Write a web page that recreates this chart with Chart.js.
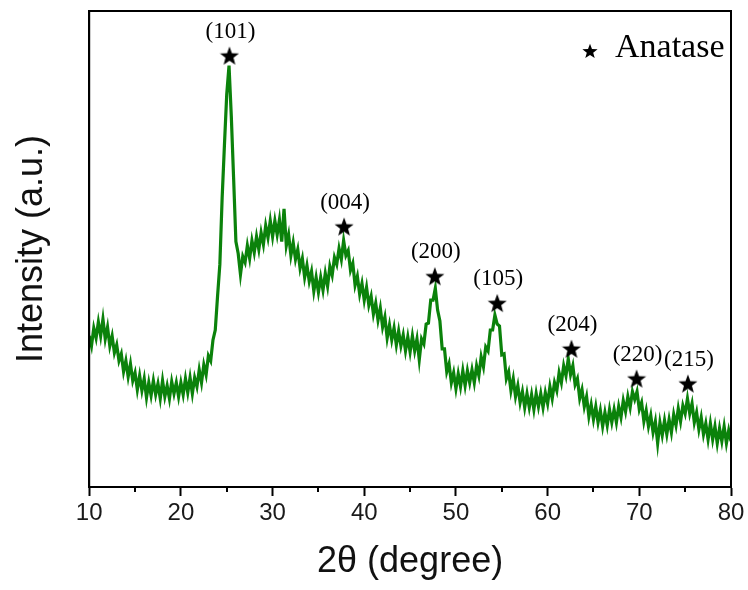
<!DOCTYPE html>
<html>
<head>
<meta charset="utf-8">
<script src="https://cdn.jsdelivr.net/npm/chart.js@4"></script>
<style>
  html, body { margin: 0; padding: 0; background: #fff; }
  #wrap { width: 748px; height: 590px; }
</style>
</head>
<body>
<div id="wrap"><canvas id="xrdChart"></canvas></div>
<script>
// XRD pattern, 2theta grid 10..80 deg, step 0.25 (intensity in a.u.)
const thetaStart = 10;
const thetaStep = 0.25;
const intensity = [
  152,142,160,150,166,152,169,149,   // 10.00 - 11.75
  161,142,152,135,143,127,134,116,   // 12
  127,111,124,107,115,98,112,97,     // 14
  109,90,105,92,107,93,104,89,       // 16
  107,91,102,89,106,94,105,91,       // 18
  105,93,109,95,110,94,110,101,      // 20
  118,105,123,113,132,127,148,158,   // 22
  192,224,291,344,395,424,373,311,   // 24
  247,235,214,232,226,243,230,248,   // 26
  236,252,239,256,244,263,251,268,   // 28
  252,268,254,269,247,280,243,254,   // 30
  233,246,229,239,220,230,211,223,   // 32
  207,217,197,211,196,211,198,215,   // 34
  202,222,213,231,224,240,229,248,   // 36
  233,238,218,225,203,212,194,205,   // 38
  188,201,183,192,174,185,168,180,   // 40
  161,171,150,163,148,160,143,157,   // 42
  142,153,137,151,136,152,137,149,   // 44
  128,149,144,164,165,188,188,200,   // 46
  178,167,139,139,116,124,105,115,   // 48
  99,114,101,117,102,117,105,118,    // 50
  105,122,112,131,121,141,137,158,   // 52
  158,173,164,162,133,134,109,116,   // 54
  97,109,91,102,85,96,80,94,         // 56
  80,93,78,94,81,94,80,95,           // 58
  84,101,89,105,97,115,105,122,      // 60
  112,129,113,122,103,109,89,98,     // 62
  81,91,71,83,68,81,65,77,           // 64
  61,75,62,78,65,78,65,81,           // 66
  70,87,76,91,80,96,88,96,           // 68
  78,85,66,77,61,72,55,66,           // 70
  44,65,52,67,53,68,55,73,           // 72
  62,79,66,82,74,89,74,84,           // 74
  65,75,58,70,53,64,48,64,           // 76
  48,61,44,59,46,61,44,57,           // 78
  46                                 // 80
];

// anatase reflections: star marker positions and hkl labels
const peakTheta = [25.3, 37.8, 47.7, 54.5, 62.6, 69.7, 75.3];
const peakMark = [434, 262, 212, 185, 139, 109, 104];
const peakLabels = ['(101)', '(004)', '(200)', '(105)', '(204)', '(220)', '(215)'];

const xTicks = [10, 20, 30, 40, 50, 60, 70, 80];

const lineData = intensity.map((v, i) => ({ x: thetaStart + i * thetaStep, y: v }));
const starData = peakTheta.map((t, i) => ({ x: t, y: peakMark[i] }));

function makeStar(size) {
    const c = document.createElement('canvas');
    c.width = size; c.height = size;
    const g = c.getContext('2d');
    const R = size / 2, r = R * 0.42, cx = R, cy = R * 1.08;
    g.beginPath();
    for (let i = 0; i < 10; i++) {
        const a = -Math.PI / 2 + i * Math.PI / 5;
        const rad = i % 2 ? r : R;
        g.lineTo(cx + rad * Math.cos(a), cy + rad * Math.sin(a));
    }
    g.closePath();
    g.fillStyle = '#000';
    g.fill();
    return c;
}

const bigStar = makeStar(20);
const smallStar = makeStar(16);

// labels above stars, legend box, frame and minor ticks
const decorations = {
    id: 'decorations',
    afterDatasetsDraw(chart) {
        const ctx = chart.ctx;
        const xs = chart.scales.x, ys = chart.scales.y;
        ctx.save();
        ctx.fillStyle = '#000';
        ctx.font = '23px "Liberation Serif", "Times New Roman", serif';
        ctx.textAlign = 'center';
        ctx.textBaseline = 'middle';
        peakLabels.forEach((lab, i) => {
            const px = xs.getPixelForValue(peakTheta[i]);
            const py = ys.getPixelForValue(peakMark[i]);
            ctx.fillText(lab, px + 1, py - 24);
        });
        ctx.restore();
    },
    afterDraw(chart) {
        const ctx = chart.ctx;
        const a = chart.chartArea;
        const xs = chart.scales.x;
        ctx.save();
        // legend
        ctx.drawImage(smallStar, a.right - 149, a.top + 32);
        ctx.fillStyle = '#000';
        ctx.font = '34px "Liberation Serif", "Times New Roman", serif';
        ctx.textAlign = 'left';
        ctx.textBaseline = 'alphabetic';
        ctx.fillText('Anatase', a.right - 116, a.top + 46);
        // frame
        ctx.strokeStyle = '#000';
        ctx.lineWidth = 2;
        ctx.strokeRect(a.left, a.top, a.right - a.left, a.bottom - a.top);
        // minor ticks
        for (let v = 15; v < 80; v += 10) {
            const px = Math.round(xs.getPixelForValue(v));
            ctx.beginPath();
            ctx.moveTo(px, a.bottom);
            ctx.lineTo(px, a.bottom + 5);
            ctx.stroke();
        }
        ctx.restore();
    }
};

new Chart(document.getElementById('xrdChart').getContext('2d'), {
    type: 'line',
    data: {
        datasets: [
            {
                label: 'Anatase',
                data: starData,
                showLine: false,
                pointStyle: bigStar,
                pointRadius: 10,
                order: 0
            },
            {
                label: 'XRD',
                data: lineData,
                borderColor: '#0b820b',
                backgroundColor: '#0b820b',
                borderWidth: 3.2,
                borderJoinStyle: 'miter',
                pointRadius: 0,
                tension: 0,
                order: 1
            }
        ]
    },
    options: {
        responsive: true,
        maintainAspectRatio: false,
        animation: false,
        events: [],
        layout: { padding: { left: 10, right: 17, top: 6, bottom: 6 } },
        plugins: {
            legend: { display: false },
            tooltip: { enabled: false }
        },
        scales: {
            x: {
                type: 'linear',
                min: 10,
                max: 80,
                afterBuildTicks: axis => { axis.ticks = xTicks.map(v => ({ value: v })); },
                ticks: {
                    autoSkip: false,
                    maxRotation: 0,
                    padding: 3,
                    color: '#1a1a1a',
                    font: { family: '"Liberation Sans", Arial, sans-serif', size: 24 }
                },
                grid: {
                    display: true,
                    drawOnChartArea: false,
                    drawTicks: true,
                    tickLength: 9,
                    tickWidth: 2,
                    tickColor: '#000'
                },
                border: { display: true, color: '#000', width: 2 },
                title: {
                    display: true,
                    text: '2θ (degree)',
                    color: '#111',
                    padding: { top: 10, bottom: 0 },
                    font: { family: '"Liberation Sans", Arial, sans-serif', size: 36 }
                }
            },
            y: {
                min: 0,
                max: 479,
                ticks: { display: false },
                grid: { display: false },
                border: { display: true, color: '#000', width: 2 },
                title: {
                    display: true,
                    text: 'Intensity (a.u.)',
                    color: '#111',
                    padding: { top: 0, bottom: 28 },
                    font: { family: '"Liberation Sans", Arial, sans-serif', size: 36 }
                }
            }
        }
    },
    plugins: [decorations]
});
</script>
</body>
</html>
